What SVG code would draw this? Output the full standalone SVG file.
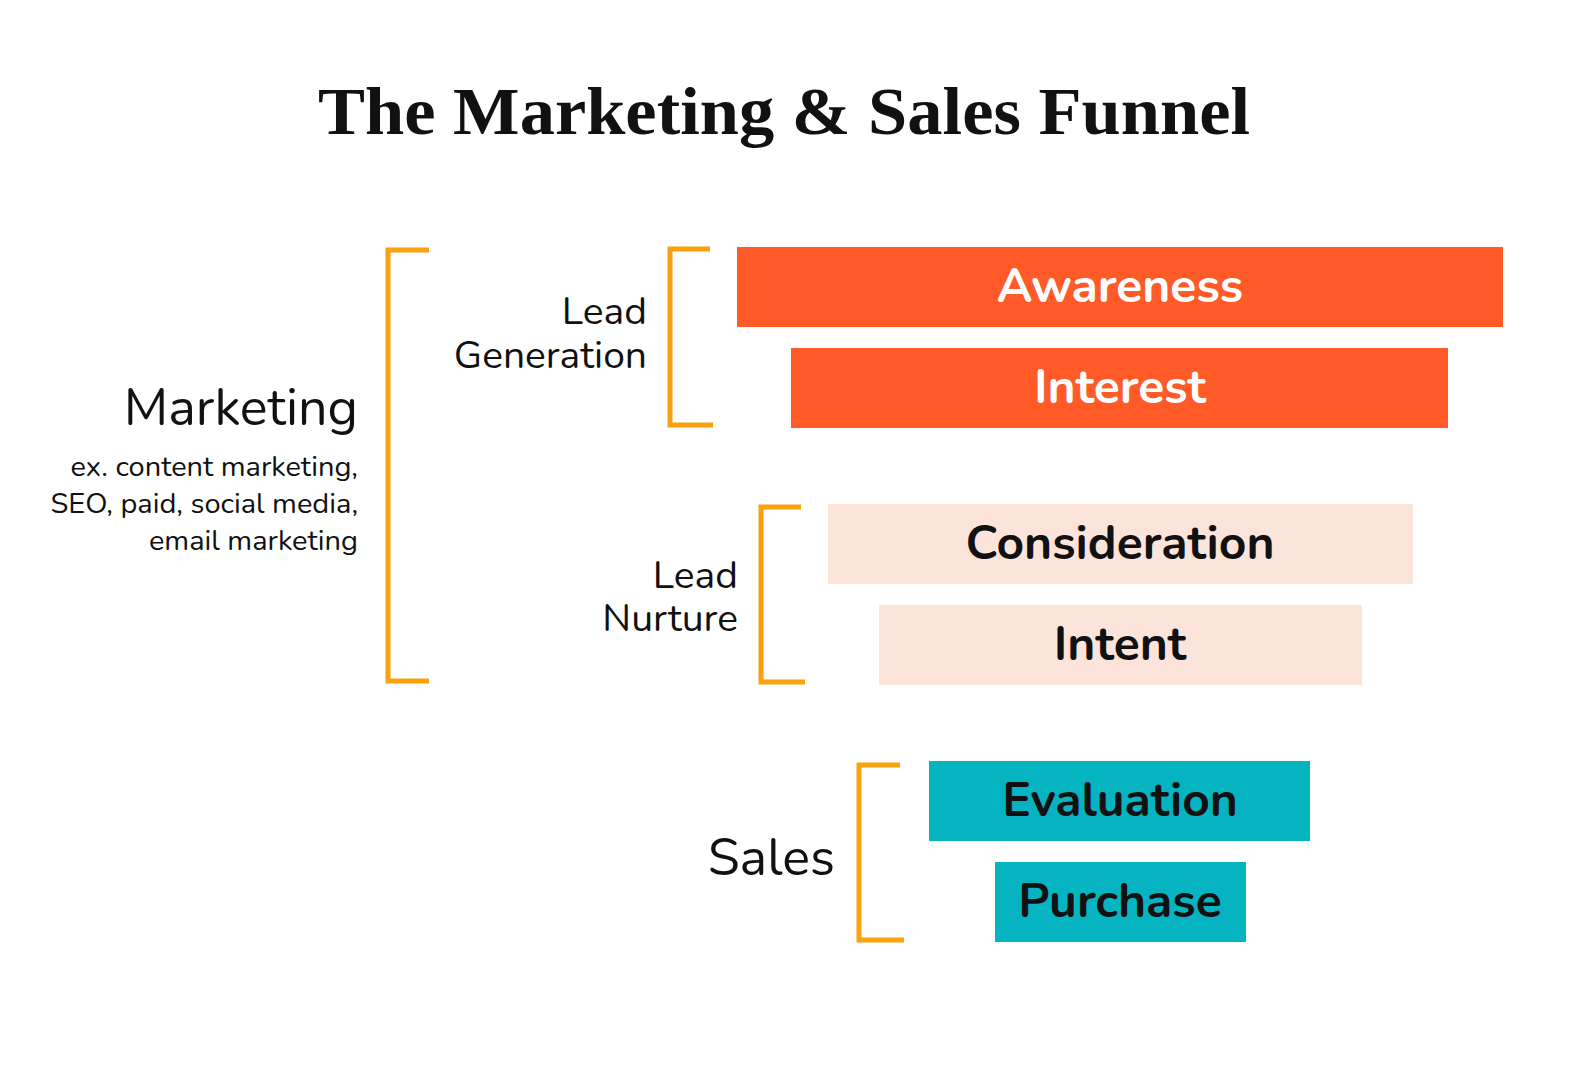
<svg xmlns="http://www.w3.org/2000/svg" width="1587" height="1080" viewBox="0 0 1587 1080">
<style>
.br{fill:none;stroke:#FBA00F;stroke-width:5}
.lbl{font-family:"Nunito","Lato","Open Sans",sans-serif;fill:#111;text-anchor:end}
.bt{font-family:"Nunito","Lato","Open Sans",sans-serif;font-weight:bold;font-size:48px;text-anchor:middle}
</style>
<rect width="1587" height="1080" fill="#fff"/>
<text x="784" y="134" font-family="Liberation Serif,serif" font-weight="bold" font-size="68" text-anchor="middle" fill="#111" textLength="932" lengthAdjust="spacingAndGlyphs">The Marketing &amp; Sales Funnel</text>
<g id="connectors">
<path class="br" d="M429 250H388V681H429"/>
<path class="br" d="M710 249H670V425H713"/>
<path class="br" d="M801 507H761V682H805"/>
<path class="br" d="M900 765H859V940H904"/>
</g>
<g id="marketing"><text class="lbl" x="358" y="425" font-size="52">Marketing</text>
<text class="lbl" x="358" y="476" font-size="29">ex. content marketing,</text>
<text class="lbl" x="358" y="513" font-size="29">SEO, paid, social media,</text>
<text class="lbl" x="358" y="550" font-size="29">email marketing</text></g>
<g id="leadgen"><text class="lbl" x="647" y="324" font-size="39">Lead</text><text class="lbl" x="647" y="368" font-size="39">Generation</text></g>
<g id="leadnurture"><text class="lbl" x="738" y="588" font-size="39">Lead</text><text class="lbl" x="738" y="631" font-size="39">Nurture</text></g>
<g id="sales"><text class="lbl" x="835" y="875" font-size="52">Sales</text></g>
<g id="awareness"><rect x="737" y="247" width="766" height="80" fill="#FF5A27"/><text class="bt" x="1120" y="302" fill="#fff">Awareness</text></g>
<g id="interest"><rect x="791" y="348" width="657" height="80" fill="#FF5A27"/><text class="bt" x="1120" y="403" fill="#fff">Interest</text></g>
<g id="consideration"><rect x="828" y="504" width="585" height="80" fill="#FDE4DB"/><text class="bt" x="1120" y="559" fill="#111">Consideration</text></g>
<g id="intent"><rect x="879" y="605" width="483" height="80" fill="#FDE4DB"/><text class="bt" x="1120" y="660" fill="#111">Intent</text></g>
<g id="evaluation"><rect x="929" y="761" width="381" height="80" fill="#05B3C1"/><text class="bt" x="1120" y="816" fill="#111">Evaluation</text></g>
<g id="purchase"><rect x="995" y="862" width="251" height="80" fill="#05B3C1"/><text class="bt" x="1120" y="917" fill="#111">Purchase</text></g>
</svg>
